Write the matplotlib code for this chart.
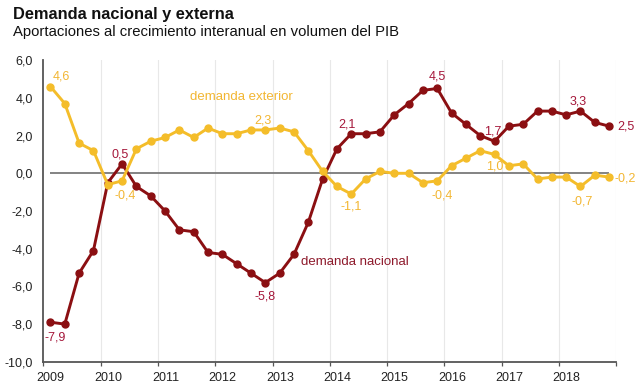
import matplotlib
matplotlib.use("Agg")
import matplotlib.pyplot as plt
import numpy as np
from matplotlib.transforms import ScaledTranslation

plt.rcParams['font.family'] = ['Liberation Sans', 'DejaVu Sans']

years = list(range(2009, 2019))
quarters = [y + (q - 0.5) / 4 for y in years for q in range(1, 5)]

demanda_nacional = [
    -7.9, -8.0, -5.3, -4.1,
    -0.5, 0.5, -0.7, -1.2,
    -2.0, -3.0, -3.1, -4.2,
    -4.3, -4.8, -5.3, -5.8,
    -5.3, -4.3, -2.6, -0.3,
    1.3, 2.1, 2.1, 2.2,
    3.1, 3.7, 4.4, 4.5,
    3.2, 2.6, 2.0, 1.7,
    2.5, 2.6, 3.3, 3.3,
    3.1, 3.3, 2.7, 2.5,
]
demanda_exterior = [
    4.6, 3.7, 1.6, 1.2,
    -0.6, -0.4, 1.3, 1.7,
    1.9, 2.3, 1.9, 2.4,
    2.1, 2.1, 2.3, 2.3,
    2.4, 2.2, 1.2, 0.1,
    -0.7, -1.1, -0.3, 0.1,
    0.0, 0.0, -0.5, -0.4,
    0.4, 0.8, 1.2, 1.0,
    0.4, 0.5, -0.3, -0.2,
    -0.2, -0.7, -0.1, -0.2,
]

# labelled points: (index, offset_x_px, offset_y_px)
labels_nacional = [(0, 5, -15), (5, -2, 9), (15, 0, -14), (21, -4, 9),
                   (27, 0, 12), (31, -2, 10), (37, -2, 10), (39, 17, 0)]
labels_exterior = [(0, 11, 10), (5, 3.5, -15), (15, -2, 9), (21, 0, -12),
                   (27, 4.5, -15), (31, 0, -12), (37, 2, -15.5), (39, 16, -1)]

c_nac = '#8b0f12'
c_nac_txt = '#a5173a'
c_ext = '#f4bd2a'
c_ext_txt = '#f2b632'

fig = plt.figure(figsize=(6.4, 3.91), dpi=100)
ax = fig.add_axes([43.3 / 640, (391 - 361.8) / 391, 573 / 640, 301.6 / 391])

ax.set_xlim(2009, 2019)
ax.set_ylim(-10, 6)

for yr in range(2010, 2020):
    ax.axvline(yr, color='#e8e8e8', lw=0.8, zorder=0)

ax.hlines(0, quarters[0], quarters[-1], color='#7a7a7a', lw=1.3, zorder=1)

ax.plot(quarters, demanda_nacional, color=c_nac, lw=2.1, marker='o', ms=5, zorder=3)
ax.plot(quarters, demanda_exterior, color=c_ext, lw=2.1, marker='o', ms=5, zorder=4)

def fmt(v):
    return ('%.1f' % v).replace('.', ',')

px = 0.72
for i, dx, dy in labels_nacional:
    ax.annotate(fmt(demanda_nacional[i]), (quarters[i], demanda_nacional[i]),
                xytext=(dx * px, dy * px), textcoords='offset points',
                ha='center', va='center', fontsize=9, color=c_nac_txt, zorder=5)
for i, dx, dy in labels_exterior:
    ax.annotate(fmt(demanda_exterior[i]), (quarters[i], demanda_exterior[i]),
                xytext=(dx * px, dy * px), textcoords='offset points',
                ha='center', va='center', fontsize=9, color=c_ext_txt, zorder=5)

ax.text(2012.45, 4.05, 'demanda exterior', color=c_ext_txt, fontsize=9.5,
        ha='center', va='center')
ax.text(2014.44, -4.69, 'demanda nacional', color='#8e1a2c', fontsize=9.5,
        ha='center', va='center')

# axes styling
for s in ['top', 'right']:
    ax.spines[s].set_visible(False)
ax.spines['left'].set_color('#555555')
ax.spines['left'].set_linewidth(1.3)
ax.spines['bottom'].set_color('#555555')
ax.spines['bottom'].set_linewidth(1.3)

ax.set_yticks(np.arange(-10, 7, 2))
ax.set_yticklabels([fmt(v) for v in np.arange(-10, 7, 2)])
ax.tick_params(axis='y', length=0, pad=7.5, labelsize=9, labelcolor='#222222')

ax.set_xticks(range(2009, 2020))
ax.set_xticklabels([str(y) for y in years] + [''])
ax.tick_params(axis='x', length=3, width=0.9, color='#555555', pad=4,
               labelsize=9, labelcolor='#222222')
offset = ScaledTranslation(7.5 / 100, 0, fig.dpi_scale_trans)
for lab in ax.get_xticklabels():
    lab.set_transform(lab.get_transform() + offset)

fig.text(13 / 640, 1 - 14 / 391, 'Demanda nacional y externa', fontsize=11.8,
         fontweight='bold', ha='left', va='center', color='#111111')
fig.text(13 / 640, 1 - 32 / 391,
         'Aportaciones al crecimiento interanual en volumen del PIB',
         fontsize=10.7, ha='left', va='center', color='#111111')

fig.savefig('out.png', dpi=100)
